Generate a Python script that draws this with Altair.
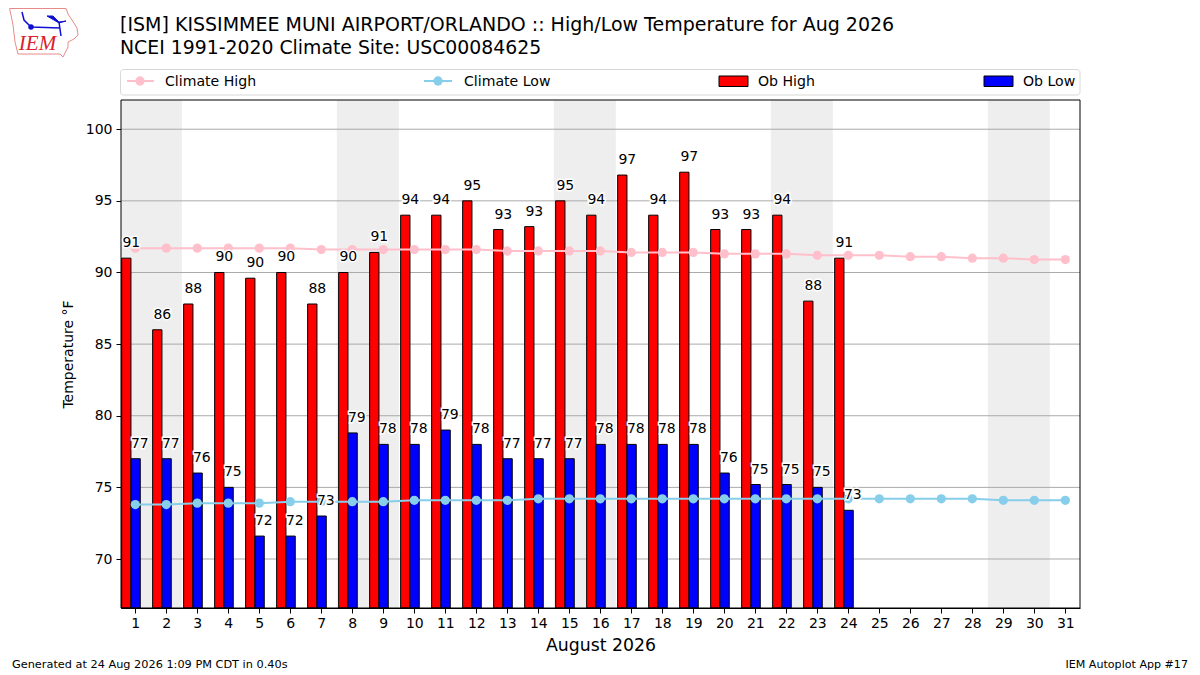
import altair as alt
import pandas as pd

days = list(range(1, 32))
obs_days = list(range(1, 25))
high = [91, 86, 87.8, 90, 89.6, 90, 87.8, 90, 91.4, 94, 94, 95, 93, 93.2, 95, 94, 96.8, 94, 97, 93, 93, 94, 88, 91]
low = [77, 77, 76, 75, 71.6, 71.6, 73, 78.8, 78, 78, 79, 78, 77, 77, 77, 78, 78, 78, 78, 76, 75.2, 75.2, 75, 73.4]
high_labels = [91, 86, 88, 90, 90, 90, 88, 90, 91, 94, 94, 95, 93, 93, 95, 94, 97, 94, 97, 93, 93, 94, 88, 91]
low_labels = [77, 77, 76, 75, 72, 72, 73, 79, 78, 78, 79, 78, 77, 77, 77, 78, 78, 78, 78, 76, 75, 75, 75, 73]
clim_high = [91.7, 91.7, 91.7, 91.7, 91.7, 91.7, 91.6, 91.6, 91.6, 91.6, 91.6, 91.6, 91.5, 91.5, 91.5, 91.5,
             91.4, 91.4, 91.4, 91.3, 91.3, 91.3, 91.2, 91.2, 91.2, 91.1, 91.1, 91.0, 91.0, 90.9, 90.9]
clim_low = [73.8, 73.8, 73.9, 73.9, 73.9, 74.0, 74.0, 74.0, 74.0, 74.1, 74.1, 74.1, 74.1, 74.2, 74.2, 74.2,
            74.2, 74.2, 74.2, 74.2, 74.2, 74.2, 74.2, 74.2, 74.2, 74.2, 74.2, 74.2, 74.1, 74.1, 74.1]
span_start = [0.5, 7.5, 14.5, 21.5, 28.5]
span_end = [2.5, 9.5, 16.5, 23.5, 30.5]
y_ticks = [70, 75, 80, 85, 90, 95, 100]

FONT = "DejaVu Sans"
OX, OY = 121, 100
W, H = 959, 508
XDOM = [0.539, 31.474]
YDOM = [66.58, 102.04]
xs = alt.Scale(domain=XDOM, nice=False, zero=False)
ys = alt.Scale(domain=YDOM, nice=False, zero=False)

obs = pd.DataFrame({"day": obs_days, "high": high, "low": low, "hl": high_labels, "ll": low_labels})
obs["h0"] = obs.day - 0.44
obs["h1"] = obs.day - 0.14
obs["l1"] = obs.day + 0.16
obs["base"] = YDOM[0]
clim = pd.DataFrame({"day": days, "chigh": clim_high, "clow": clim_low})
spans = pd.DataFrame({"s": span_start, "e": span_end})
grid = pd.DataFrame({"y": y_ticks})

x_axis = alt.Axis(values=days, format="d", title="August 2026", titleFontSize=17.3, titleFontWeight="normal",
                  titlePadding=6, labelFontSize=14, tickSize=5, labelPadding=3, grid=False, labelFlush=False,
                  labelOverlap=False)
y_axis = alt.Axis(values=y_ticks, format="d", title="Temperature °F", titleFontSize=14, titleFontWeight="normal",
                  titlePadding=10, labelFontSize=14, tickSize=5, labelPadding=4, grid=False)


def X(field):
    return alt.X(field, scale=xs, axis=x_axis)


def Y(field):
    return alt.Y(field, scale=ys, axis=y_axis)


def label(text, x, y, size, align="left", color="black", font=FONT, style="normal"):
    return alt.Chart(pd.DataFrame({"t": [text]})).mark_text(
        font=font, fontSize=size, align=align, baseline="middle", color=color, fontStyle=style
    ).encode(x=alt.value(x - OX), y=alt.value(y - OY), text="t:N")


def box(x0, x1, y0, y1, fill, stroke, sw=1, radius=0):
    return alt.Chart(pd.DataFrame({"a": [0]})).mark_rect(
        fill=fill, stroke=stroke, strokeWidth=sw, cornerRadius=radius
    ).encode(x=alt.value(x0 - OX), x2=alt.value(x1 - OX), y=alt.value(y0 - OY), y2=alt.value(y1 - OY))


def seg(x0, x1, y, color):
    return alt.Chart(pd.DataFrame({"a": [0]})).mark_rule(color=color, strokeWidth=2).encode(
        x=alt.value(x0 - OX), x2=alt.value(x1 - OX), y=alt.value(y - OY)
    )


def dot(x, y, color, size=86):
    return alt.Chart(pd.DataFrame({"a": [0]})).mark_point(
        filled=True, color=color, size=size, opacity=1
    ).encode(x=alt.value(x - OX), y=alt.value(y - OY))


def path(d, stroke, sw, fill=None):
    kw = dict(fill=fill, filled=True) if fill else dict(filled=False)
    return alt.Chart(pd.DataFrame({"a": [0]})).mark_point(
        shape=d, size=4, stroke=stroke, strokeWidth=sw, opacity=1, **kw
    ).encode(x=alt.value(-OX), y=alt.value(-OY))


span_layer = alt.Chart(spans).mark_rect(fill="#eeeeee", clip=True).encode(x=X("s:Q"), x2="e:Q")
grid_layer = alt.Chart(grid).mark_rule(color="#aaaaaa", strokeWidth=1).encode(y=Y("y:Q"))
high_bars = alt.Chart(obs).mark_rect(fill="#ff0000", stroke="black", strokeWidth=1).encode(
    x=X("h0:Q"), x2="h1:Q", y=Y("high:Q"), y2="base:Q"
)
low_bars = alt.Chart(obs).mark_rect(fill="#0000ff", stroke="black", strokeWidth=1).encode(
    x=X("h1:Q"), x2="l1:Q", y=Y("low:Q"), y2="base:Q"
)


def clim_line(field, color):
    enc = dict(x=X("day:Q"), y=Y(field + ":Q"))
    return alt.Chart(clim).mark_line(color=color, strokeWidth=2).encode(**enc) + \
        alt.Chart(clim).mark_point(filled=True, color=color, size=86, opacity=1).encode(**enc)


def value_labels(val, lab, dx):
    enc = dict(x=X("day:Q"), y=Y(val + ":Q"), text=lab + ":Q")
    kw = dict(font=FONT, fontSize=14, align="center", baseline="middle", dx=dx, dy=-15)
    return alt.Chart(obs).mark_text(stroke="white", strokeWidth=3, **kw).encode(**enc) + \
        alt.Chart(obs).mark_text(color="black", **kw).encode(**enc)


frame = alt.Chart(pd.DataFrame({"a": [0]})).mark_rect(
    fillOpacity=0, fill="white", stroke="black", strokeWidth=1
).encode(x=alt.value(0), x2=alt.value(W), y=alt.value(0), y2=alt.value(H))

iowa = ("M9.5,8.5 L66,8.5 L68,14 L72,20 L77,28 L78,35 L74,39 L68,42 L68,47 L65,53 L63,57 "
        "L60,54 L18,54 L15,42 L13,25 L11,15 Z")
station = "M31,27 L60,28 M59,22 L61,36 M22,12 L24,20 L31,27"
flag = "M47,16 L53,16 L59,22 L66,21 L59,23 Z"

layers = [
    span_layer, grid_layer, high_bars, low_bars, frame,
    clim_line("chigh", "#ffc0cb"), clim_line("clow", "#87ceeb"),
    value_labels("high", "hl", -4), value_labels("low", "ll", 4.5),
    # header
    label("[ISM] KISSIMMEE MUNI AIRPORT/ORLANDO :: High/Low Temperature for Aug 2026", 120, 25, 19),
    label("NCEI 1991-2020 Climate Site: USC00084625", 120, 48, 18.85),
    # legend
    box(120.5, 1080, 69.5, 95, "white", "#d8d8d8", 1, 3),
    seg(127, 154, 81, "#ffc0cb"), dot(140, 81, "#ffc0cb"), label("Climate High", 165, 81.5, 14.1),
    seg(424, 452, 81, "#87ceeb"), dot(438, 81, "#87ceeb"), label("Climate Low", 464, 81.5, 14.1),
    box(719, 748, 76, 86.5, "#ff0000", "black"), label("Ob High", 758, 81.5, 14.1),
    box(984, 1013, 76, 86.5, "#0000ff", "black"), label("Ob Low", 1023, 81.5, 14.1),
    # footer
    label("Generated at 24 Aug 2026 1:09 PM CDT in 0.40s", 12, 665, 11.3),
    label("IEM Autoplot App #17", 1188, 665, 11.1, align="right"),
    # logo
    path(iowa, "#e98a8a", 1), path(station, "#1010d0", 1.5), path(flag, "#1010d0", 1, fill="#1010d0"),
    dot(31, 27, "#1010d0", size=30),
    label("IEM", 37.5, 44, 21, align="center", color="#d8222a", font="Liberation Serif", style="italic"),
]

chart = alt.layer(*layers).properties(
    width=W, height=H,
    autosize=alt.AutoSizeParams(type="none"),
    padding={"left": OX - 8, "top": OY - 8, "right": 110, "bottom": 65},
    background="white",
).configure_view(stroke=None).configure_axis(
    domainColor="black", tickColor="black", labelColor="black", titleColor="black",
    labelFont=FONT, titleFont=FONT, domainWidth=1, tickWidth=1
)

chart.save("out.html", embed_options={"renderer": "svg", "actions": False})
